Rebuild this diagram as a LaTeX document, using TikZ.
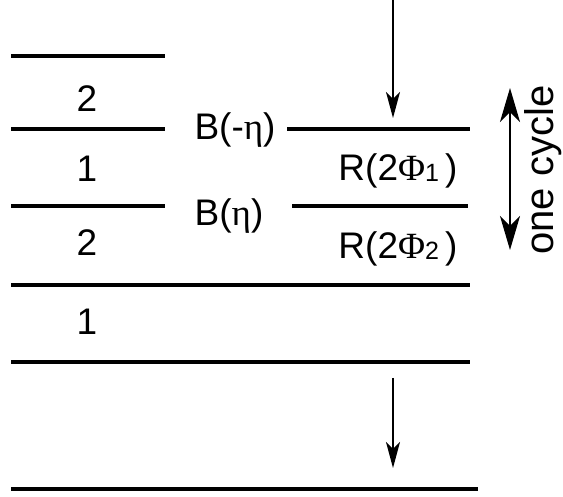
\documentclass[tikz,border=0pt]{standalone}
\usepackage{fontspec}
\setmainfont{Liberation Sans}
\newfontfamily\grk{Liberation Serif}
\usetikzlibrary{arrows.meta}
\begin{document}
\begin{tikzpicture}[x=1pt,y=-1pt,
  level/.style={line width=3.5pt},
  flow/.style={line width=1.5pt,-{Stealth[length=26pt,width=14pt,inset=7pt]}},
  lab/.style={font=\fontsize{37}{40}\selectfont,inner sep=0pt,anchor=base},
  num/.style={font=\fontsize{37}{40}\selectfont,inner sep=0pt,anchor=base},
  big/.style={font=\fontsize{40}{44}\selectfont,inner sep=0pt}]
\useasboundingbox (0,0) rectangle (563,497);
% levels
\coordinate (a1) at (11,56);  \coordinate (a2) at (165,56);
\coordinate (b1) at (11,129); \coordinate (b2) at (165,129);
\coordinate (b3) at (287,129); \coordinate (b4) at (470,129);
\coordinate (c1) at (11,206); \coordinate (c2) at (165,206);
\coordinate (c3) at (292,206); \coordinate (c4) at (468,206);
\coordinate (d1) at (11,285); \coordinate (d2) at (470,285);
\coordinate (e1) at (11,362); \coordinate (e2) at (470,362);
\coordinate (f1) at (11,489); \coordinate (f2) at (478,489);
\draw[level] (a1) -- (a2);
\draw[level] (b1) -- (b2);
\draw[level] (b3) -- (b4);
\draw[level] (c1) -- (c2);
\draw[level] (c3) -- (c4);
\draw[level] (d1) -- (d2);
\draw[level] (e1) -- (e2);
\draw[level] (f1) -- (f2);
% labels
\node[num] (n1) at (87,112) {2};
\node[num] (n2) at (87,182) {1};
\node[num] (n3) at (87,256) {2};
\node[num] (n4) at (87,335) {1};
\node[lab] (bm) at (235,140) {B(-{\grk η})};
\node[lab] (bp) at (229,226) {B({\grk η})};
\node[lab] (r1) at (398,181) {R(2{\grk Φ}\raisebox{-1pt}{\fontsize{25}{28}\selectfont 1}\,)};
\node[lab] (r2) at (398,259) {R(2{\grk Φ}\raisebox{-1pt}{\fontsize{25}{28}\selectfont 2}\,)};
% arrows
\coordinate (s1) at (393,0); \coordinate (t1) at (393,118);
\coordinate (s2) at (393,378); \coordinate (t2) at (393,468);
\draw[flow] (s1) -- (t1);
\draw[flow] (s2) -- (t2);
\coordinate (u1) at (510,88); \coordinate (u2) at (510,250);
\draw[line width=2.5pt,{Stealth[length=34pt,width=20pt,inset=10pt]}-{Stealth[length=34pt,width=20pt,inset=10pt]}] (u1) -- (u2);
\node[big,rotate=90] (cyc) at (543,170) {one cycle};
\end{tikzpicture}
\end{document}
